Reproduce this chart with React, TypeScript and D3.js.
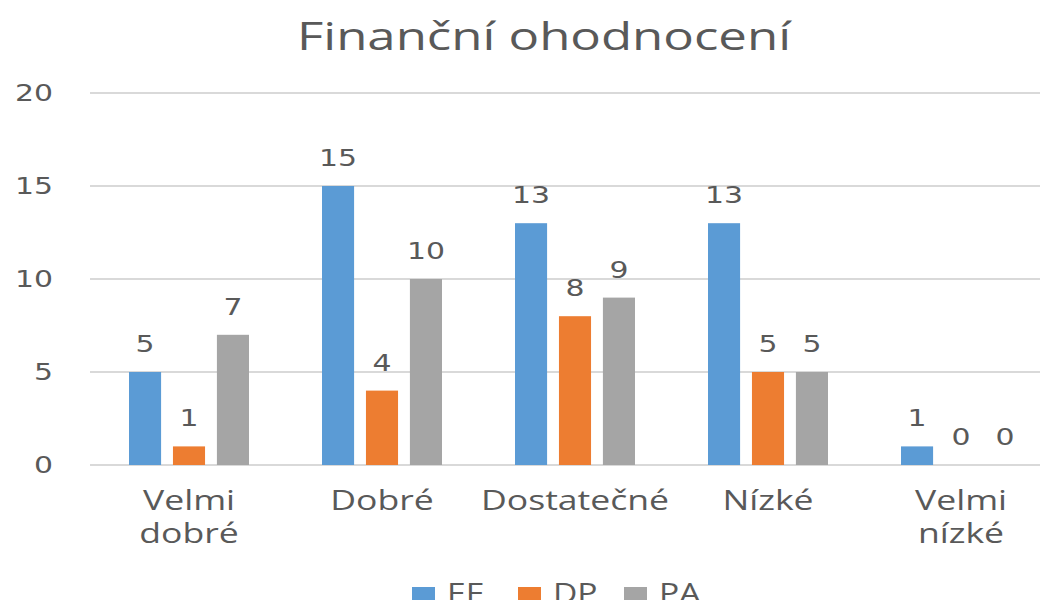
import React from "react";
import * as d3 from "d3";

const categories: string[][] = [["Velmi", "dobré"], ["Dobré"], ["Dostatečné"], ["Nízké"], ["Velmi", "nízké"]];
const seriesNames = ["EE", "DP", "PA"];
const seriesColors = ["#5B9BD5", "#ED7D31", "#A5A5A5"];
const valuesEE = [5, 15, 13, 13, 1];
const valuesDP = [1, 4, 8, 5, 0];
const valuesPA = [7, 10, 9, 5, 0];
const yTicks = [0, 5, 10, 15, 20];
const title = "Finanční ohodnocení";

const W = 1046;
const H = 600;
const SX = 1.3; // horizontal text stretch of the reference
const textColor = "#595959";
const catFont = "'Open Sans', 'Noto Sans', sans-serif";
const numFont = "'DejaVu Sans', Verdana, sans-serif";

function SText(props: { x: number; y: number; anchor?: string; size: number; font: string; children: React.ReactNode; sx?: number; fill?: string }) {
  const { x, y, anchor = "middle", size, font, children, sx = SX, fill = textColor } = props;
  return (
    <text transform={`translate(${x},${y}) scale(${sx},1)`} textAnchor={anchor} fontSize={size} fontFamily={font} fill={fill}>
      {children}
    </text>
  );
}

export default function App() {
  const series = [valuesEE, valuesDP, valuesPA];
  const keys = categories.map((c) => c.join(" "));
  const x0 = d3.scaleBand<string>().domain(keys).range([92.5, 92.5 + 193 * 5]).padding(0);
  const x1 = d3.scaleBand<string>().domain(seriesNames).range([0, 120]).paddingInner(0.27).paddingOuter(0);
  const y = d3.scaleLinear().domain([0, 20]).range([465, 93]);
  const groupOffset = (x0.bandwidth() - 120) / 2;

  return (
    <svg width={W} height={H} style={{ position: "absolute", left: 0, top: 0, background: "#fff" }}>
      <rect width={W} height={H} fill="#fff" />
      <SText x={544} y={50} size={38} font={catFont} sx={1.34}>{title}</SText>
      {yTicks.map((t) => (
        <g key={t}>
          <line x1={90} x2={1040} y1={y(t)} y2={y(t)} stroke="#D9D9D9" strokeWidth={2} />
          <SText x={53} y={y(t) + 8} anchor="end" size={23} font={numFont}>{t}</SText>
        </g>
      ))}
      {keys.map((k, ci) => (
        <g key={k} transform={`translate(${(x0(k) as number) + groupOffset},0)`}>
          {seriesNames.map((s, si) => {
            const v = series[si][ci];
            const bx = x1(s) as number;
            const bw = x1.bandwidth();
            return (
              <g key={s}>
                {v > 0 && <rect x={bx} y={y(v)} width={bw} height={y(0) - y(v)} fill={seriesColors[si]} />}
                <SText x={bx + bw / 2} y={y(v) - 20} size={23} font={numFont}>{v}</SText>
              </g>
            );
          })}
        </g>
      ))}
      {categories.map((lines, ci) => (
        <g key={ci}>
          {lines.map((ln, li) => (
            <SText key={li} x={(x0(keys[ci]) as number) + x0.bandwidth() / 2} y={510 + li * 33} size={28} font={catFont} sx={1.27}>{ln}</SText>
          ))}
        </g>
      ))}
      {seriesNames.map((s, si) => {
        const lx = 412 + si * 106;
        return (
          <g key={s}>
            <rect x={lx} y={587} width={23} height={15} fill={seriesColors[si]} />
            <SText x={lx + 35} y={603} anchor="start" size={28} font={catFont} sx={1.2}>{s}</SText>
          </g>
        );
      })}
    </svg>
  );
}
